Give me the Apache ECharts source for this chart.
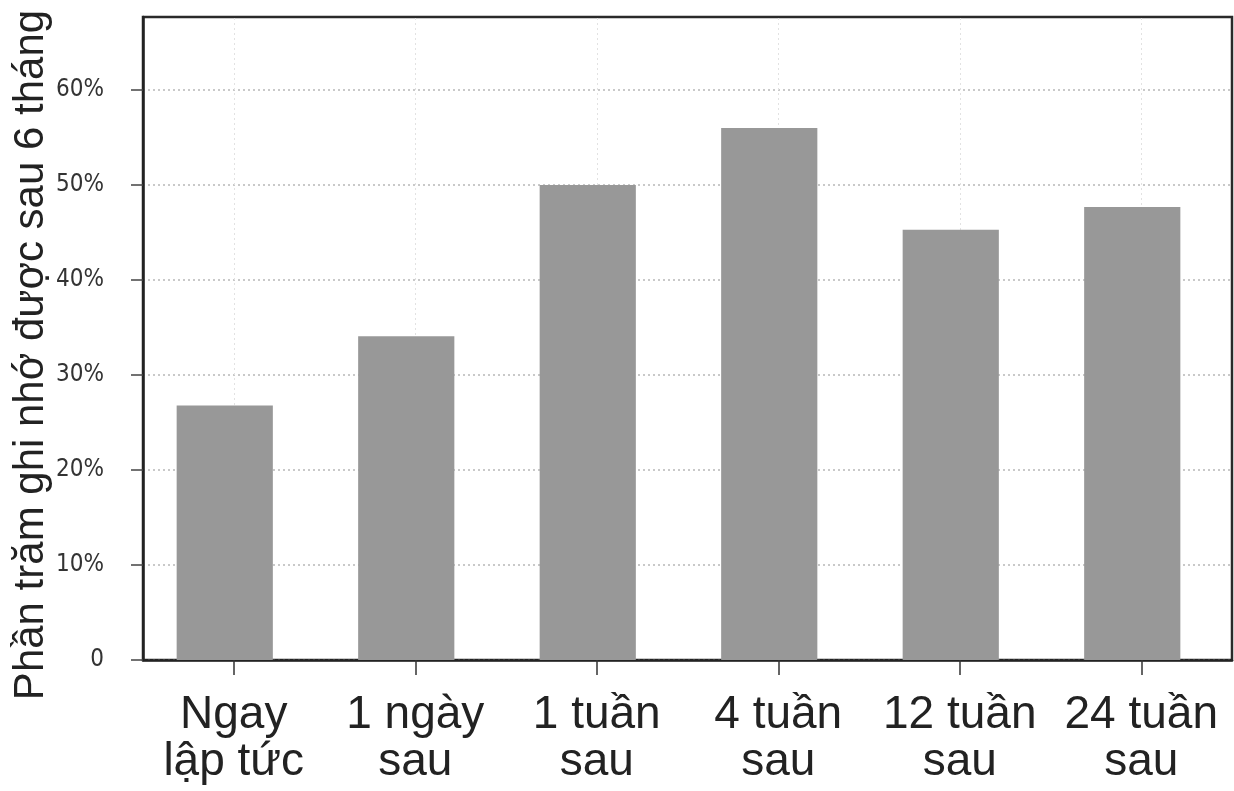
<!DOCTYPE html>
<html>
<head>
<meta charset="utf-8">
<script src="https://cdn.jsdelivr.net/npm/echarts@6/dist/echarts.min.js"></script>
<style>
html,body{margin:0;padding:0;background:#fff;}
#chart{width:1234px;height:791px;}
</style>
</head>
<body>
<div id="chart"></div>
<script>
const categories = ['Ngay\nlập tức', '1 ngày\nsau', '1 tuần\nsau', '4 tuần\nsau', '12 tuần\nsau', '24 tuần\nsau'];
const values = [26.8, 34.1, 50.0, 56.0, 45.3, 47.7];
const yTicks = [0, 10, 20, 30, 40, 50, 60];
const yTitle = 'Phần trăm ghi nhớ được sau 6 tháng';
const yMax = 67.7;

const chart = echarts.init(document.getElementById('chart'));
chart.setOption({
  animation: false,
  backgroundColor: '#ffffff',
  graphic: [
    {
      type: 'text',
      x: 31, y: 355,
      rotation: Math.PI / 2,
      style: {
        text: yTitle,
        fontSize: 42,
        fontFamily: 'Liberation Sans, Arial, sans-serif',
        fill: '#222',
        align: 'center',
        verticalAlign: 'middle'
      }
    }
  ],
  grid: [
    {
      left: 143, right: 2, top: 17, bottom: 131,
      containLabel: false, outerBoundsMode: 'none',
      show: true, borderColor: '#2a2a2a', borderWidth: 2.5, backgroundColor: 'transparent'
    },
    {
      left: 134, right: 11, top: 17, bottom: 131,
      containLabel: false, outerBoundsMode: 'none', show: false
    }
  ],
  xAxis: [
    {
      gridIndex: 0,
      type: 'category',
      data: categories,
      boundaryGap: true,
      axisLine: { show: true, lineStyle: { color: '#222', width: 2.5 } },
      axisTick: { show: true, alignWithLabel: true, length: 15, lineStyle: { color: '#333', width: 1.5 } },
      axisLabel: {
        color: '#222', fontSize: 46, lineHeight: 47, margin: 32,
        fontFamily: 'Liberation Sans, Arial, sans-serif', interval: 0
      },
      splitLine: { show: false }
    },
    {
      gridIndex: 1,
      type: 'category',
      data: categories,
      boundaryGap: true,
      show: false
    }
  ],
  yAxis: [
    {
      gridIndex: 0,
      type: 'value',
      min: 0, max: yMax, interval: 10,
      axisLine: { show: true, lineStyle: { color: '#222', width: 2.5 } },
      axisTick: { show: true, length: 12, lineStyle: { color: '#444', width: 1.5 } },
      axisLabel: {
        showMaxLabel: false,
        margin: 39,
        color: '#333', fontSize: 24,
        fontFamily: 'Liberation Sans Narrow, DejaVu Sans Condensed, sans-serif',
        formatter: function (v) {
          if (yTicks.indexOf(v) < 0) return '';
          return v === 0 ? '0' : v + '%';
        }
      },
      splitLine: { show: true, showMaxLine: false, lineStyle: { color: '#b8b8b8', type: [2, 3], width: 1.5 } }
    },
    {
      gridIndex: 1,
      type: 'value',
      min: 0, max: yMax, interval: 10,
      show: false,
      splitLine: { show: false }
    }
  ],
  series: [
    {
      type: 'line',
      xAxisIndex: 0, yAxisIndex: 0,
      data: [],
      z: 1,
      silent: true,
      markLine: {
        silent: true,
        z: 1,
        symbol: 'none',
        label: { show: false },
        lineStyle: { color: '#e2e2e2', type: [2, 3], width: 1 },
        data: categories.map(c => ({ xAxis: c }))
      }
    },
    {
      type: 'bar',
      xAxisIndex: 1, yAxisIndex: 1,
      data: values,
      z: 3,
      barWidth: '53%',
      itemStyle: { color: '#989898' }
    }
  ]
});
</script>
</body>
</html>
